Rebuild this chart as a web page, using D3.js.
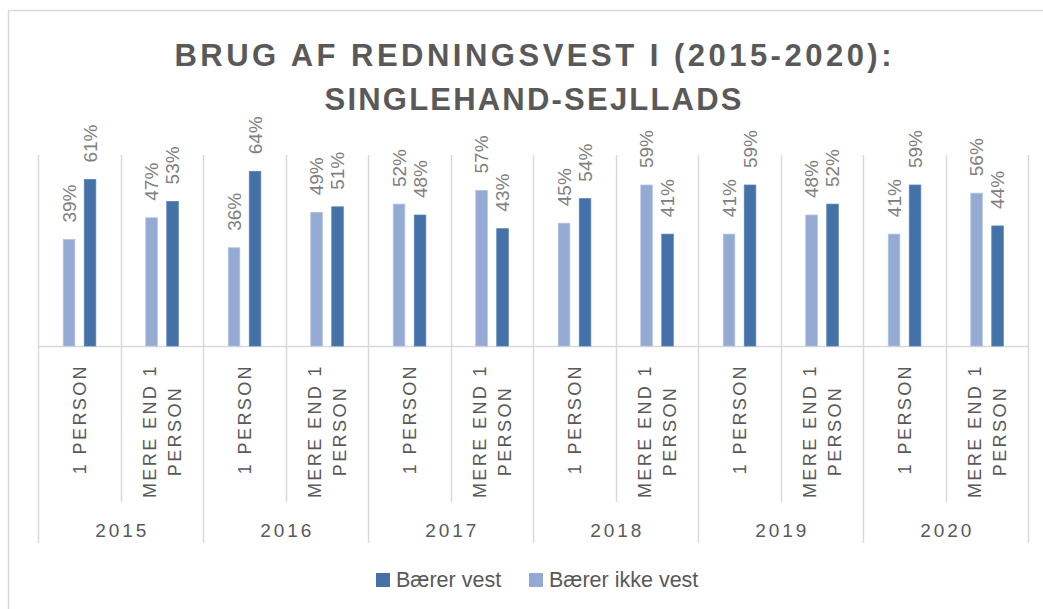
<!DOCTYPE html>
<html>
<head>
<meta charset="utf-8">
<script src="https://cdn.jsdelivr.net/npm/d3@7"></script>
<style>
  body { margin: 0; background: #fff; }
  text { font-family: "Liberation Sans", Arial, sans-serif; }
</style>
</head>
<body>
<div id="chartbox"></div>
<script>
d3.select('#chartbox').html(null);

// data
var years = ["2015", "2016", "2017", "2018", "2019", "2020"];
var groups = ["1 PERSON", "MERE END 1 PERSON"];
var groupLines = [["1 PERSON"], ["MERE END 1", "PERSON"]];
var baererVest = [61, 53, 64, 51, 48, 43, 54, 41, 59, 52, 59, 44];
var baererIkkeVest = [39, 47, 36, 49, 52, 57, 45, 59, 41, 48, 41, 56];
var series = ["Bærer ikke vest", "Bærer vest"];
var legendOrder = ["Bærer vest", "Bærer ikke vest"];
var titleLines = ["BRUG AF REDNINGSVEST I (2015-2020):", "SINGLEHAND-SEJLLADS"];

const width = 1043;
const height = 609;
var colors = {"Bærer vest": "#4471a8", "Bærer ikke vest": "#94aad3"};
var edge = {"Bærer vest": "#5a83b5", "Bærer ikke vest": "#b0c2e2"};
var gridColor = "#d9d9d9";

var svg = d3.select('#chartbox').append('svg')
  .attr('width', width).attr('height', height)
  .attr("viewBox", [0, 0, width, height]);

// outer chart border (runs off right/bottom)
svg.append('rect').attr('x', 8.5).attr('y', 10.5).attr('width', 1100).attr('height', 700)
  .attr('fill', 'none').attr('stroke', gridColor).attr('stroke-width', 1.5);

var margin = {top: 155, left: 38.3, right: 1028.3, base: 346};

// one slot per year/group pair
var cats = [];
years.forEach(function(yr, i) {
  groups.forEach(function(g, j) { cats.push({year: yr, group: g, lines: groupLines[j], k: i * groups.length + j}); });
});

var x = d3.scaleBand().domain(d3.range(cats.length)).range([margin.left, margin.right]).padding(0);
var xs = d3.scaleBand().domain(series).range([0, x.bandwidth()]).paddingInner(0.45).paddingOuter(1.19);
var y = d3.scaleLinear().domain([0, 0.7]).range([margin.base, margin.top]);

// vertical gridlines in plot
var bounds = d3.range(cats.length + 1).map(function(k) { return k < cats.length ? x(k) : margin.right; });
svg.append('g').selectAll('line').data(bounds).join('line')
  .attr('x1', function(d) { return Math.round(d) + 0.5; }).attr('x2', function(d) { return Math.round(d) + 0.5; })
  .attr('y1', y(0.7)).attr('y2', y(0))
  .attr('stroke', gridColor).attr('stroke-width', 1.5);

// category axis separators
svg.append('g').selectAll('line').data(bounds).join('line')
  .attr('x1', function(d) { return Math.round(d) + 0.5; }).attr('x2', function(d) { return Math.round(d) + 0.5; })
  .attr('y1', y(0)).attr('y2', function(d, k) { return k % 2 === 0 ? 543 : 502; })
  .attr('stroke', gridColor).attr('stroke-width', 1.5);

svg.append('line').attr('x1', margin.left).attr('x2', margin.right)
  .attr('y1', y(0) + 0.5).attr('y2', y(0) + 0.5)
  .attr('stroke', gridColor).attr('stroke-width', 1.5);

// bars
var rows = [];
cats.forEach(function(c) {
  rows.push({k: c.k, s: "Bærer ikke vest", v: baererIkkeVest[c.k] / 100});
  rows.push({k: c.k, s: "Bærer vest", v: baererVest[c.k] / 100});
});

svg.append('g').selectAll('rect').data(rows).join('rect')
  .attr('x', function(d) { return x(d.k) + xs(d.s); })
  .attr('width', xs.bandwidth())
  .attr('y', function(d) { return y(d.v); })
  .attr('height', function(d) { return y(0) - y(d.v); })
  .attr('fill', function(d) { return colors[d.s]; })
  .attr('stroke', function(d) { return edge[d.s]; }).attr('stroke-width', 0.8);

// data labels, rotated
svg.append('g').selectAll('text').data(rows).join('text')
  .attr('transform', function(d) {
    return 'translate(' + (x(d.k) + xs(d.s) + xs.bandwidth() / 2) + ',' + (y(d.v) - 17) + ') rotate(-90)';
  })
  .attr('dy', '0.36em')
  .attr('font-size', 19).attr('fill', '#808080')
  .text(function(d) { return Math.round(d.v * 100) + '%'; });

// group labels (level 1)
var lab = svg.append('g');
cats.forEach(function(c) {
  var n = c.lines.length;
  var tx = lab.selectAll(null).data(c.lines).enter().append('text')
    .attr('font-size', 18).attr('fill', '#595959').attr('letter-spacing', 2.4)
    .attr('text-anchor', 'middle').attr('dy', '0.36em')
    .text(function(d) { return d; });
  var maxLen = 0;
  tx.each(function() { maxLen = Math.max(maxLen, this.getComputedTextLength()); });
  tx.attr('transform', function(d, i) {
    var cx = x(c.k) + x.bandwidth() / 2 + (i - (n - 1) / 2) * 25.5;
    return 'translate(' + cx + ',' + (364 + maxLen / 2) + ') rotate(-90)';
  });
});

// year labels (level 2)
svg.append('g').selectAll('text').data(years).join('text')
  .attr('x', function(d, i) { return (x(i * 2) + x(i * 2 + 1) + x.bandwidth()) / 2 + 1.5; })
  .attr('y', 537)
  .attr('text-anchor', 'middle')
  .attr('font-size', 19).attr('fill', '#595959').attr('letter-spacing', 3)
  .text(function(d) { return d; });

// title
var titleW = [717, 417];
svg.append('g').selectAll('text').data(titleLines).join('text')
  .attr('x', 533).attr('y', function(d, i) { return 66 + i * 44; })
  .attr('text-anchor', 'middle')
  .attr('font-size', 31).attr('font-weight', 'bold').attr('fill', '#595959')
  .attr('textLength', function(d, i) { return titleW[i]; })
  .attr('lengthAdjust', 'spacing')
  .text(function(d) { return d; });

// legend
var legX = [376, 529];
var leg = svg.append('g').selectAll('g').data(legendOrder).join('g')
  .attr('transform', function(d, i) { return 'translate(' + legX[i] + ',573)'; });
leg.append('rect').attr('width', 14).attr('height', 14).attr('fill', function(d) { return colors[d]; });
leg.append('text').attr('x', 20).attr('y', 13.5)
  .attr('font-size', 21.5).attr('fill', '#595959')
  .text(function(d) { return d; });
</script>
</body>
</html>
